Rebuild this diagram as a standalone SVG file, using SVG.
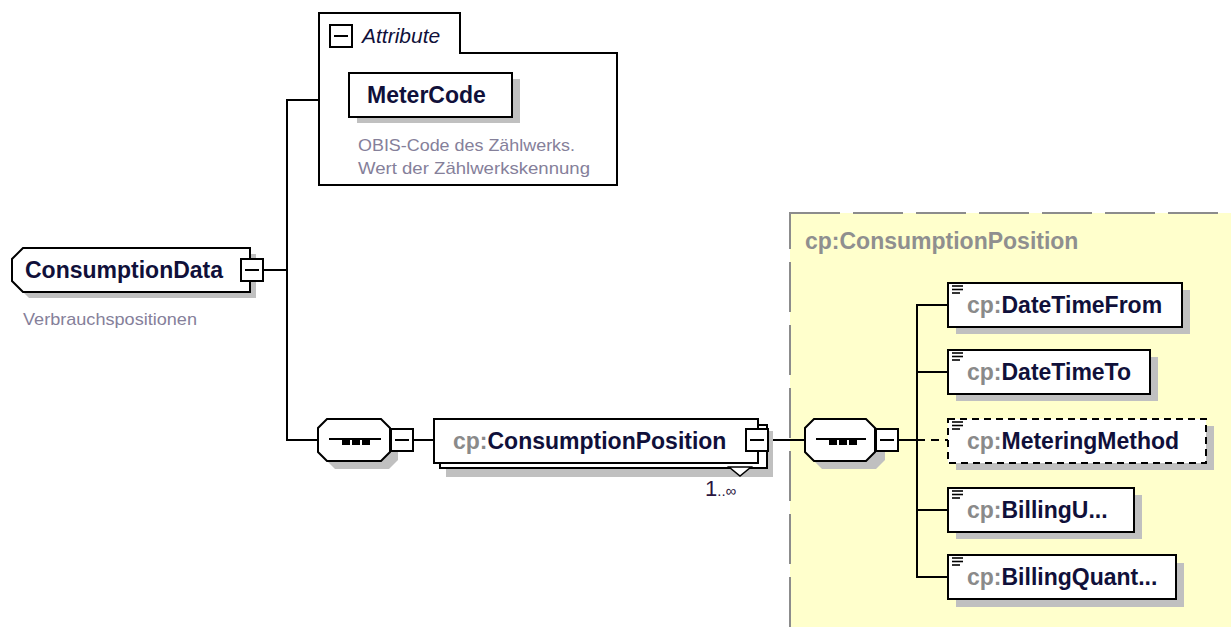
<svg xmlns="http://www.w3.org/2000/svg" width="1231" height="627" viewBox="0 0 1231 627">
<style>
.ln{stroke:#000;stroke-width:2;fill:none}
.box{fill:#fff;stroke:#000;stroke-width:2}
.sh{fill:#c0c0c0}
.lbl{font-family:"Liberation Sans",Arial,sans-serif;font-weight:bold;font-size:23px;fill:#10103a}
.ns{fill:#8a8a8a}
.desc{font-family:"Liberation Sans",Arial,sans-serif;font-size:17px;fill:#85809a}
.ico{stroke:#000;stroke-width:1.6}
</style>
<defs>
<g id="elIcon"><line class="ico" x1="952" y1="286" x2="963" y2="286"/><line class="ico" x1="952" y1="289.5" x2="963" y2="289.5"/><line class="ico" x1="952" y1="293" x2="960" y2="293"/></g>
</defs>
<rect x="790" y="213" width="470" height="430" fill="#ffffcc" stroke="#8c8c8c" stroke-width="2" stroke-dasharray="50 13"/>
<text x="805" y="249" class="lbl" style="fill:#8f8f8f">cp:ConsumptionPosition</text>
<g id="connectors">
<polyline class="ln" points="319,100 287,100 287,440 318,440"/>
<line class="ln" x1="263" y1="270" x2="287" y2="270"/>
<line class="ln" x1="413" y1="440" x2="434" y2="440"/>
<line class="ln" x1="768" y1="440" x2="805" y2="440"/>
<line class="ln" x1="898" y1="440" x2="917" y2="440"/>
<polyline class="ln" points="948,305 917,305 917,577 948,577"/>
<line class="ln" x1="917" y1="372" x2="948" y2="372"/>
<line class="ln" x1="917" y1="510" x2="948" y2="510"/>
<line class="ln" x1="917" y1="440" x2="948" y2="440" stroke-dasharray="8 6"/>
</g>
<g id="ConsumptionData">
<polygon class="sh" points="29,254 256,254 256,298 29,298 18,287 18,265"/>
<polygon class="box" points="23,248 250,248 250,292 23,292 12,281 12,259"/>
<text x="25" y="278" class="lbl">ConsumptionData</text>
<rect class="box" x="241" y="259" width="22" height="22"/>
<line class="ln" x1="245" y1="270" x2="259" y2="270"/>
<text x="23" y="325" class="desc" textLength="174" lengthAdjust="spacingAndGlyphs">Verbrauchspositionen</text>
</g>
<g id="Attributes">
<path class="box" d="M319,185 V13 H460 V53 H617 V185 Z"/>
<rect class="box" x="330" y="25" width="22" height="22"/>
<line class="ln" x1="334" y1="36" x2="348" y2="36"/>
<text x="362" y="43" style="font-family:'Liberation Sans',Arial,sans-serif;font-style:italic;font-size:21px;fill:#10103a">Attribute</text>
<g id="MeterCode">
<rect class="sh" x="357" y="79" width="163" height="44"/>
<rect class="box" x="349" y="73" width="163" height="44"/>
<text x="367" y="103" class="lbl">MeterCode</text>
</g>
<text x="358" y="151" class="desc" textLength="217" lengthAdjust="spacingAndGlyphs">OBIS-Code des Zählwerks.</text>
<text x="358" y="174" class="desc" textLength="232" lengthAdjust="spacingAndGlyphs">Wert der Zählwerkskennung</text>
</g>
<g id="Sequence1">
<polygon class="sh" points="335,427 389,427 398,436 398,460 389,469 335,469 326,460 326,436"/>
<polygon class="box" points="327,419 381,419 390,428 390,452 381,461 327,461 318,452 318,428"/>
<line class="ln" x1="329" y1="439" x2="381" y2="439"/>
<rect x="342" y="439" width="8" height="6"/><rect x="352" y="439" width="8" height="6"/><rect x="362" y="439" width="8" height="6"/>
<rect class="box" x="391" y="429" width="22" height="22"/>
<line class="ln" x1="395" y1="440" x2="409" y2="440"/>
</g>
<g id="ConsumptionPosition">
<rect class="sh" x="446" y="431" width="327" height="46"/>
<rect class="box" x="440" y="425" width="327" height="43"/>
<polygon class="box" points="729,467 751,467 740,476" style="stroke-width:1.5"/>
<rect class="box" x="434" y="419" width="324" height="44"/>
<text x="453" y="449" class="lbl"><tspan class="ns">cp:</tspan>ConsumptionPosition</text>
<rect class="box" x="746" y="429" width="22" height="22"/>
<line class="ln" x1="750" y1="440" x2="764" y2="440"/>
<text x="705" y="496" style="font-family:'Liberation Sans',Arial,sans-serif;font-size:22px;fill:#2a1540">1<tspan style="font-size:15px">..∞</tspan></text>
</g>
<g id="Sequence2">
<polygon class="sh" points="822,427 876,427 885,436 885,460 876,469 822,469 813,460 813,436"/>
<polygon class="box" points="814,419 866,419 875,428 875,452 866,461 814,461 805,452 805,428"/>
<line class="ln" x1="816" y1="439" x2="866" y2="439"/>
<rect x="829" y="439" width="8" height="6"/><rect x="839" y="439" width="8" height="6"/><rect x="849" y="439" width="8" height="6"/>
<rect class="box" x="876" y="429" width="22" height="22"/>
<line class="ln" x1="880" y1="440" x2="894" y2="440"/>
</g>
<g id="DateTimeFrom">
<rect class="sh" x="956" y="290" width="234" height="44"/>
<rect class="box" x="948" y="283" width="234" height="44"/>
<use href="#elIcon"/>
<text x="967" y="313" class="lbl"><tspan class="ns">cp:</tspan>DateTimeFrom</text>
</g>
<g id="DateTimeTo">
<rect class="sh" x="956" y="357" width="202" height="44"/>
<rect class="box" x="948" y="350" width="202" height="44"/>
<use href="#elIcon" y="67"/>
<text x="967" y="380" class="lbl"><tspan class="ns">cp:</tspan>DateTimeTo</text>
</g>
<g id="MeteringMethod">
<rect class="sh" x="956" y="426" width="258" height="44"/>
<rect class="box" x="948" y="419" width="258" height="44" stroke-dasharray="7 5"/>
<use href="#elIcon" y="136"/>
<text x="967" y="449" class="lbl"><tspan class="ns">cp:</tspan>MeteringMethod</text>
</g>
<g id="BillingUnit">
<rect class="sh" x="956" y="495" width="186" height="44"/>
<rect class="box" x="948" y="488" width="186" height="44"/>
<use href="#elIcon" y="205"/>
<text x="967" y="518" class="lbl"><tspan class="ns">cp:</tspan>BillingU...</text>
</g>
<g id="BillingQuantity">
<rect class="sh" x="956" y="563" width="228" height="44"/>
<rect class="box" x="948" y="555" width="228" height="44"/>
<use href="#elIcon" y="272"/>
<text x="967" y="585" class="lbl"><tspan class="ns">cp:</tspan>BillingQuant...</text>
</g>
</svg>
